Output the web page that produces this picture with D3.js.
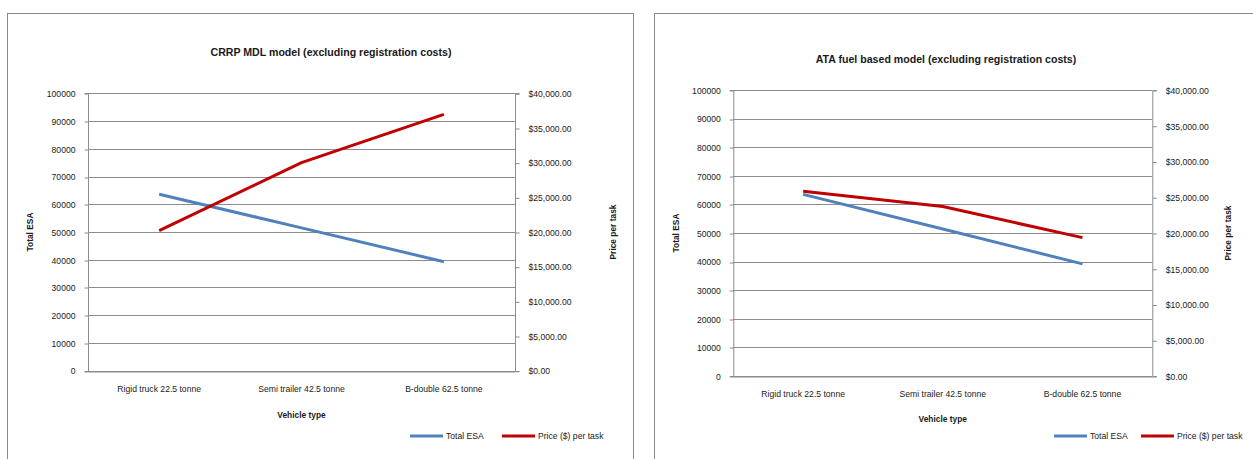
<!DOCTYPE html>
<html>
<head>
<meta charset="utf-8">
<script src="https://cdn.jsdelivr.net/npm/d3@7/dist/d3.min.js"></script>
<style>
  html, body { margin: 0; padding: 0; background: #ffffff; }
  svg { display: block; }
  text { font-family: "Liberation Sans", Arial, sans-serif; fill: #1a1a1a; }
</style>
</head>
<body>
<svg id="chart" width="1253" height="459"></svg>
<script>
// Vehicle categories shared by both panels
const categories = ["Rigid truck 22.5 tonne", "Semi trailer 42.5 tonne", "B-double 62.5 tonne"];

// CRRP MDL model
const crrpTotalEsa = [63600, 51500, 39300];
const crrpPrice = [20200, 30000, 36950];

// ATA fuel based model
const ataTotalEsa = [63500, 51400, 39200];
const ataPrice = [25850, 23700, 19350];

// Axis ticks
const esaTicks = [0, 10000, 20000, 30000, 40000, 50000, 60000, 70000, 80000, 90000, 100000];
const priceTicks = [0, 5000, 10000, 15000, 20000, 25000, 30000, 35000, 40000];

const seriesNames = ["Total ESA", "Price ($) per task"];
const blue = "#4f81bd";
const red = "#c00000";
const grid = "#8c8c8c";

const svg = d3.select("#chart");

function drawPanel(cfg) {
  const g = svg.append("g");

  // outer chart frame
  g.append("rect")
    .attr("x", cfg.frame.x + 0.5).attr("y", cfg.frame.y + 0.5)
    .attr("width", cfg.frame.w).attr("height", cfg.frame.h)
    .attr("fill", "#fff").attr("stroke", "#8a8a8a").attr("stroke-width", 1);

  const x = d3.scaleBand().domain(categories).range([cfg.left, cfg.right]);
  const yL = d3.scaleLinear().domain([0, 100000]).range([cfg.bottom, cfg.top]);
  const yR = d3.scaleLinear().domain([0, 40000]).range([cfg.bottom, cfg.top]);

  // horizontal gridlines
  g.append("g").selectAll("line").data(esaTicks).join("line")
    .attr("x1", cfg.left).attr("x2", cfg.right)
    .attr("y1", d => Math.round(yL(d)) + 0.5).attr("y2", d => Math.round(yL(d)) + 0.5)
    .attr("stroke", grid).attr("stroke-width", 1);

  // left axis
  const axL = g.append("g").attr("transform", `translate(${cfg.left + 0.5},0.5)`)
    .call(d3.axisLeft(yL).tickValues(esaTicks).tickSize(4).tickPadding(9).tickFormat(d3.format("d")));
  axL.select(".domain").attr("stroke", grid).attr("d", `M-4,${Math.round(cfg.top)}H0V${Math.round(cfg.bottom)}H-4`);
  axL.selectAll(".tick line").attr("stroke", grid).attr("transform", d => `translate(0,${Math.round(yL(d)) - yL(d)})`);
  axL.selectAll(".tick text").attr("font-size", 8.6).attr("fill", "#1a1a1a")
    .attr("font-family", "'Liberation Sans', Arial, sans-serif");

  // right axis
  const axR = g.append("g").attr("transform", `translate(${cfg.right + 0.5},0.5)`)
    .call(d3.axisRight(yR).tickValues(priceTicks).tickSize(4).tickPadding(9).tickFormat(d => "$" + d3.format(",.2f")(d)));
  axR.select(".domain").attr("stroke", grid).attr("d", `M4,${Math.round(cfg.top)}H0V${Math.round(cfg.bottom)}H4`);
  axR.selectAll(".tick line").attr("stroke", grid);
  axR.selectAll(".tick text").attr("font-size", 8.6).attr("fill", "#1a1a1a")
    .attr("font-family", "'Liberation Sans', Arial, sans-serif");

  // bottom axis (category labels)
  const axB = g.append("g").attr("transform", `translate(0,${Math.round(cfg.bottom) + 0.5})`)
    .call(d3.axisBottom(x).tickSize(0).tickPadding(cfg.catPad));
  axB.select(".domain").attr("stroke", grid);
  axB.selectAll(".tick text").attr("font-size", 8.6).attr("fill", "#1a1a1a")
    .attr("font-family", "'Liberation Sans', Arial, sans-serif");

  // series lines
  const xc = d => x(d) + x.bandwidth() / 2;
  const lineL = d3.line().x((d, i) => xc(categories[i])).y(d => yL(d));
  const lineR = d3.line().x((d, i) => xc(categories[i])).y(d => yR(d));
  g.append("path").datum(cfg.esa).attr("d", lineL)
    .attr("fill", "none").attr("stroke", blue).attr("stroke-width", 3).attr("stroke-linejoin", "round");
  g.append("path").datum(cfg.price).attr("d", lineR)
    .attr("fill", "none").attr("stroke", red).attr("stroke-width", 3).attr("stroke-linejoin", "round");

  // title
  g.append("text").attr("x", cfg.titleX).attr("y", cfg.titleY)
    .attr("text-anchor", "middle").attr("font-size", 10.6).attr("font-weight", "bold")
    .text(cfg.title);

  // axis titles
  g.append("text").attr("transform", `translate(${cfg.leftTitleX},${(cfg.top + cfg.bottom) / 2}) rotate(-90)`)
    .attr("text-anchor", "middle").attr("font-size", 8.4).attr("font-weight", "bold").text("Total ESA");
  g.append("text").attr("transform", `translate(${cfg.rightTitleX},${(cfg.top + cfg.bottom) / 2}) rotate(-90)`)
    .attr("text-anchor", "middle").attr("font-size", 8.4).attr("font-weight", "bold").text("Price per task");
  g.append("text").attr("x", (cfg.left + cfg.right) / 2).attr("y", cfg.xTitleY)
    .attr("text-anchor", "middle").attr("font-size", 8.4).attr("font-weight", "bold").text("Vehicle type");

  // legend
  const leg = g.append("g").attr("transform", `translate(${cfg.legendX},${cfg.legendY})`);
  const items = [{ name: seriesNames[0], color: blue, dx: 0 }, { name: seriesNames[1], color: red, dx: cfg.legendGap }];
  const it = leg.selectAll("g").data(items).join("g").attr("transform", d => `translate(${d.dx},0)`);
  it.append("line").attr("x1", 0).attr("x2", 33).attr("y1", 0).attr("y2", 0)
    .attr("stroke", d => d.color).attr("stroke-width", 3);
  it.append("text").attr("x", 36).attr("y", 3).attr("font-size", 8.6).text(d => d.name);
}

drawPanel({
  frame: { x: 7, y: 13, w: 626, h: 460 },
  left: 88, right: 515, top: 93.3, bottom: 370.7,
  esa: crrpTotalEsa, price: crrpPrice,
  title: "CRRP MDL model (excluding registration costs)",
  titleX: 331, titleY: 56,
  leftTitleX: 33, rightTitleX: 616, xTitleY: 418,
  catPad: 14,
  legendX: 410, legendY: 436, legendGap: 92
});

drawPanel({
  frame: { x: 654, y: 13, w: 640, h: 460 },
  left: 733.3, right: 1152.3, top: 90, bottom: 376,
  esa: ataTotalEsa, price: ataPrice,
  title: "ATA fuel based model (excluding registration costs)",
  titleX: 946, titleY: 63,
  leftTitleX: 679, rightTitleX: 1231, xTitleY: 422,
  catPad: 14,
  legendX: 1054, legendY: 436, legendGap: 87
});
</script>
</body>
</html>
